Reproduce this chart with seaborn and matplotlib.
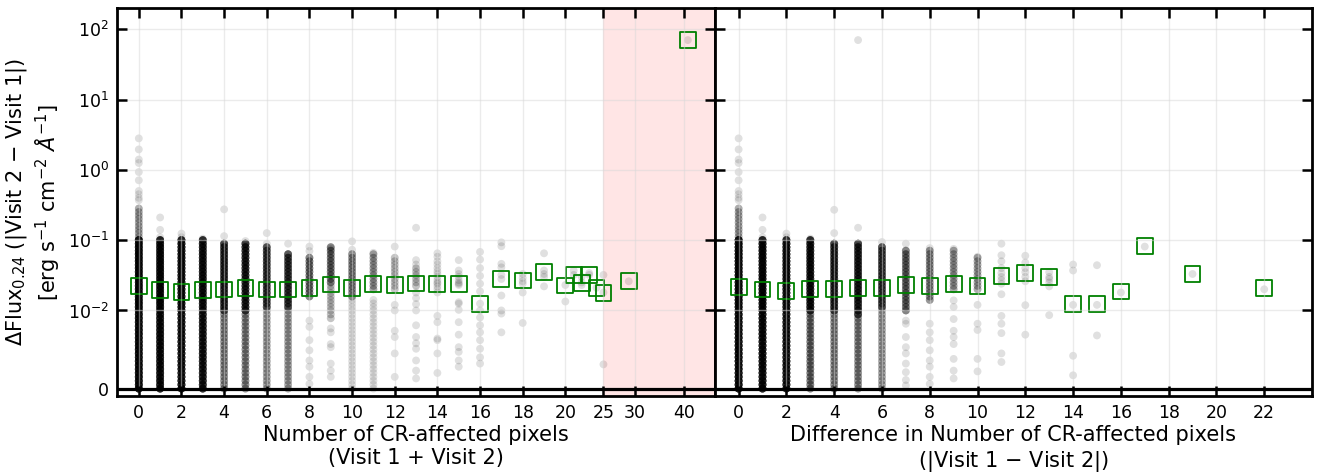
import numpy as np
import pandas as pd
import matplotlib
matplotlib.use("Agg")
import matplotlib.pyplot as plt
import matplotlib.ticker as mticker
import seaborn as sns

# density levels used to draw the saturated parts of each column
core_levels = [0.0, 0.0005, 0.001, 0.0015, 0.002, 0.0025, 0.003, 0.0035, 0.004, 0.0045,
               0.005, 0.0055, 0.006, 0.0065, 0.007, 0.0075, 0.008, 0.0085, 0.009, 0.0095,
               0.01, 0.0112, 0.0126, 0.0141, 0.0158, 0.0178, 0.02, 0.0224, 0.0251, 0.0282,
               0.0316, 0.0355, 0.0398, 0.0447, 0.0501, 0.0562, 0.0631, 0.0708, 0.0794, 0.0891,
               0.1, 0.112, 0.126, 0.141, 0.158, 0.178, 0.2, 0.224, 0.251, 0.282, 0.316]

# ---- left panel: Visit 1 + Visit 2 ----
sum_x = list(range(26)) + [29, 41]
sum_core_lo = [0, 0, 0, 0, 0.01, 0.01, 0.011, 0.011, 0.0155, 0.024, 0.015, 0.019, 0.019, 0.022] + [0] * 14
sum_core_hi = [0.1, 0.1, 0.1, 0.1, 0.09, 0.09, 0.08, 0.07, 0.06, 0.08, 0.07, 0.07, 0.06, 0.04] + [0] * 14
sum_core_n = [16, 14, 14, 12, 10, 10, 8, 8, 5, 5, 4, 3, 2, 2] + [0] * 14
sum_halo_lo = [0.1, 0, 0, 0, 0, 0, 0, 0, 0, 0.009, 0, 0, 0, 0] + [0] * 14
sum_halo_hi = [0.3, 0, 0, 0, 0.01, 0.01, 0.011, 0.011, 0, 0.024, 0.015, 0.015, 0, 0] + [0] * 14
sum_halo_n = [3, 0, 0, 0, 4, 4, 3, 3, 0, 2, 1, 1, 0, 0] + [0] * 14
sum_extra = [
    [0.37, 0.4, 0.45, 0.5, 0.71, 0.93, 1.25, 1.4, 1.95, 2.8],
    [0.11, 0.14, 0.21],
    [0.11, 0.124],
    [0.105],
    [0.114, 0.274],
    [0.097],
    [0.089, 0.126],
    [0.089],
    [0.081, 0.07, 0.0087, 0.0079, 0.0062, 0.0049, 0.0036, 0.0028, 0.0015, 0.0006],
    [0.075, 0.0077, 0.0072, 0.0057, 0.0053, 0.0032, 0.0023, 0.0015],
    [0.096, 0.073],
    [0.066],
    [0.081, 0.012, 0.01, 0.0074, 0.0066, 0.0045, 0.0015],
    [0.15, 0.052, 0.045, 0.018, 0.015, 0.0123, 0.01, 0.0081, 0.0066, 0.0058, 0.0051, 0.0036, 0.0023, 0.0013],
    [0.065, 0.058, 0.05, 0.045, 0.04, 0.036, 0.033, 0.03, 0.027, 0.025, 0.024, 0.022, 0.02, 0.018,
     0.0093, 0.0085, 0.0064, 0.0062, 0.0045, 0.002],
    [0.052, 0.037, 0.033, 0.03, 0.027, 0.025, 0.024, 0.023, 0.0131, 0.0125, 0.0102, 0.0085, 0.0069,
     0.0053, 0.0047, 0.0036, 0.0028],
    [0.068, 0.053, 0.040, 0.031, 0.024, 0.0187, 0.0125, 0.010, 0.0091, 0.0081, 0.0072, 0.0062,
     0.0051, 0.004, 0.0032],
    [0.093, 0.082, 0.046, 0.041, 0.032, 0.028, 0.0163, 0.01, 0.0096, 0.0072],
    [0.033, 0.029, 0.026, 0.024, 0.018, 0.0084],
    [0.065, 0.037, 0.033, 0.030, 0.022],
    [0.023, 0.0134],
    [0.037, 0.032],
    [0.03, 0.025, 0.023],
    [0.034, 0.032],
    [0.021],
    [0.032, 0.018, 0.0031],
    [0.026],
    [70.0],
]
sum_med = [0.022, 0.0193, 0.0182, 0.0193, 0.0199, 0.021, 0.0199, 0.0199, 0.0206, 0.0234,
           0.021, 0.024, 0.0232, 0.0242, 0.0238, 0.0238, 0.0125, 0.0282, 0.0266, 0.035,
           0.0227, 0.0322, 0.0248, 0.0323, 0.0208, 0.0178, 0.0259, 70.5]

# ---- right panel: |Visit 1 - Visit 2| ----
diff_x = list(range(18)) + [19, 22]
diff_core_lo = [0, 0, 0, 0.01, 0.01, 0.0095, 0.011, 0.01, 0.013, 0.018, 0.018] + [0] * 9
diff_core_hi = [0.1, 0.1, 0.1, 0.1, 0.09, 0.09, 0.08, 0.075, 0.075, 0.075, 0.06] + [0] * 9
diff_core_n = [16, 14, 13, 12, 10, 10, 8, 5, 4, 3, 3] + [0] * 9
diff_halo_lo = [0.1, 0, 0, 0, 0, 0, 0, 0, 0, 0, 0] + [0] * 9
diff_halo_hi = [0.3, 0, 0, 0.01, 0.01, 0.0095, 0.011, 0, 0, 0, 0] + [0] * 9
diff_halo_n = [3, 0, 0, 5, 4, 4, 3, 0, 0, 0, 0] + [0] * 9
diff_extra = [
    [0.37, 0.4, 0.45, 0.5, 0.71, 0.93, 1.25, 1.4, 1.95, 2.8],
    [0.11, 0.14, 0.21],
    [0.11, 0.124],
    [0.105],
    [0.126, 0.27],
    [0.15, 70.0],
    [0.094],
    [0.089, 0.0087, 0.0083, 0.0066, 0.0053, 0.0045, 0.0032, 0.0021, 0.0011, 0.0004],
    [0.077, 0.0083, 0.0072, 0.0062, 0.0049, 0.0036, 0.0028, 0.0015, 0.0006],
    [0.075, 0.0139, 0.0112, 0.0089, 0.0074, 0.0066, 0.0057, 0.0038, 0.0023, 0.0013],
    [0.058, 0.012, 0.0083, 0.0075, 0.0038, 0.0022],
    [0.089, 0.061, 0.05, 0.04, 0.034, 0.03, 0.027, 0.024, 0.017, 0.0093, 0.0083, 0.0071, 0.0045, 0.0034],
    [0.06, 0.048, 0.04, 0.035, 0.03, 0.026, 0.0119, 0.0069],
    [0.035, 0.03, 0.028, 0.025, 0.022, 0.0094],
    [0.045, 0.037, 0.012, 0.0042, 0.0017],
    [0.044, 0.012, 0.0068],
    [0.018],
    [0.081],
    [0.033],
    [0.02],
]
diff_med = [0.0215, 0.0199, 0.0191, 0.0201, 0.0201, 0.021, 0.021, 0.0232, 0.0222, 0.0237,
            0.0225, 0.0312, 0.034, 0.0298, 0.0125, 0.0125, 0.0186, 0.0815, 0.0333, 0.0206]

sum_ticks = [0, 2, 4, 6, 8, 10, 12, 14, 16, 18, 20, 25, 30, 40]
diff_ticks = [0, 2, 4, 6, 8, 10, 12, 14, 16, 18, 20, 22]
y_ticks = [0, 1e-2, 1e-1, 1, 10, 100]


def build_points(xs, clo, chi, cn, hlo, hhi, hn, extra):
    lev = np.array(core_levels)
    rows_x, rows_y = [], []
    for i, x in enumerate(xs):
        if cn[i] > 0:
            v = lev[(lev >= clo[i]) & (lev <= chi[i])]
            v = np.repeat(v, cn[i])
            rows_x += [x] * len(v)
            rows_y += list(v)
        if hn[i] > 0:
            v = lev[(lev >= hlo[i]) & (lev < hhi[i])]
            v = np.repeat(v, hn[i])
            rows_x += [x] * len(v)
            rows_y += list(v)
        rows_x += [x] * len(extra[i])
        rows_y += list(extra[i])
    return pd.DataFrame({"x": rows_x, "y": rows_y})


df_sum = build_points(sum_x, sum_core_lo, sum_core_hi, sum_core_n,
                      sum_halo_lo, sum_halo_hi, sum_halo_n, sum_extra)
df_diff = build_points(diff_x, diff_core_lo, diff_core_hi, diff_core_n,
                       diff_halo_lo, diff_halo_hi, diff_halo_n, diff_extra)
med_sum = pd.DataFrame({"x": sum_x, "y": sum_med})
med_diff = pd.DataFrame({"x": diff_x, "y": diff_med})


# x axis of the left panel: linear up to 20, compressed (log) beyond
def fwd(x):
    x = np.asarray(x, dtype=float)
    return np.where(x <= 20, x, 20 + 8 * np.log(np.maximum(x, 20) / 20))


def inv(t):
    t = np.asarray(t, dtype=float)
    return np.where(t <= 20, t, 20 * np.exp((np.maximum(t, 20) - 20) / 8))


plt.rcParams['font.family'] = ['DejaVu Sans']
plt.rcParams['axes.axisbelow'] = 'line'

fig, (ax1, ax2) = plt.subplots(1, 2, figsize=(13.17, 4.72), dpi=100, sharey=True)
fig.subplots_adjust(left=0.0892, right=0.9962, bottom=0.161, top=0.983, wspace=0)

for ax, df, med in [(ax1, df_sum, med_sum), (ax2, df_diff, med_diff)]:
    sns.scatterplot(data=df, x="x", y="y", color="k", alpha=0.12, s=32,
                    linewidth=0, edgecolor="none", ax=ax, legend=False)
    sns.scatterplot(data=med, x="x", y="y", marker="s", s=130, facecolor="none",
                    edgecolor="green", linewidth=1.3, ax=ax, legend=False)
    ax.axhline(0, color="k", lw=2.3, zorder=3)

ax1.set_xscale("function", functions=(fwd, inv))
ax1.axvspan(25, 48, color="red", alpha=0.1, lw=0, zorder=0)
ax1.set_xlim(-1, 48)
ax1.set_xticks(sum_ticks)
ax1.xaxis.set_major_formatter(mticker.FixedFormatter([str(t) for t in sum_ticks]))
ax1.xaxis.set_minor_locator(mticker.NullLocator())

ax2.set_xlim(-1, 24)
ax2.set_xticks(diff_ticks)

ax1.set_yscale("symlog", linthresh=0.01, linscale=1)
ax1.set_ylim(-0.00095, 200)
ax1.set_yticks(y_ticks)
ax1.yaxis.set_minor_locator(mticker.NullLocator())

for ax in (ax1, ax2):
    ax.grid(True, color="0.85", alpha=0.5, lw=1)
    ax.tick_params(direction="in", top=True, right=True, bottom=True, left=True,
                   length=7, width=1.8, labelsize=12.5, pad=6)
    for sp in ax.spines.values():
        sp.set_linewidth(2)
ax2.tick_params(labelleft=False)

ax1.set_xlabel("Number of CR-affected pixels\n(Visit 1 + Visit 2)", fontsize=15, labelpad=2)
ax2.set_xlabel("Difference in Number of CR-affected pixels\n($|$Visit 1 $-$ Visit 2$|$)",
               fontsize=15, labelpad=2)
ax1.set_ylabel("$\\Delta$Flux$_{0.24}$ ($|$Visit 2 $-$ Visit 1$|$)\n"
               "[erg s$^{-1}$ cm$^{-2}$ $Å^{-1}$]", fontsize=15)

fig.savefig("out.png", dpi=100)
